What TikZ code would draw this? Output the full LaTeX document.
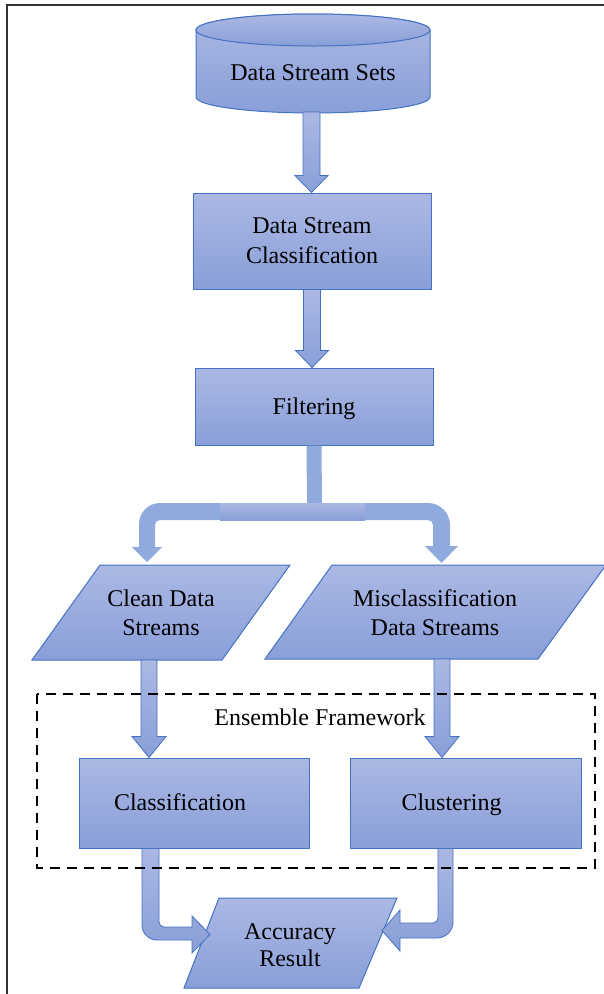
\documentclass[tikz,border=0pt]{standalone}
\usepackage{fontspec}
\setmainfont{Liberation Serif}
\newfontfamily\tnrfont{Liberation Serif}
\usetikzlibrary{calc}
\definecolor{boxtop}{RGB}{171,184,227}
\definecolor{boxbot}{RGB}{137,159,216}
\definecolor{edgeblue}{RGB}{68,114,196}
\definecolor{arrowfill}{RGB}{143,170,220}
\definecolor{framegray}{RGB}{50,50,50}
\tikzset{
  lbl/.style={font=\tnrfont\fontsize{24}{29}\selectfont, align=center, inner sep=0pt},
  boxshade/.style={top color=boxtop, bottom color=boxbot, draw=edgeblue, line width=1pt},
  procbox/.style={boxshade, rectangle, inner sep=0pt, font=\tnrfont\fontsize{24}{30}\selectfont, align=center},
  oneline/.style={text height=20pt, text depth=5pt},
  blockarrow/.style={top color=boxtop, bottom color=boxbot, draw=edgeblue, line width=0.8pt},
}
\newcommand{\varrow}[5]{%
  \path[blockarrow] let \p1=(#1), \p2=(#2) in
   (\x1-#3pt,\y1) -- (\x1+#3pt,\y1) -- (\x1+#3pt,\y2+#5pt) -- (\x1+#4pt,\y2+#5pt)
   -- (\x1,\y2) -- (\x1-#4pt,\y2+#5pt) -- (\x1-#3pt,\y2+#5pt) -- cycle;}
\begin{document}
\begin{tikzpicture}[x=1pt,y=-1pt]
\useasboundingbox (0,0) rectangle (604,994);
% outer frame
\draw[framegray, line width=2pt] (6.5,1010) -- (6.5,4.5) -- (620,4.5);

% cylinder
\path[boxshade] (196,30) -- (196,97) arc[start angle=180, end angle=360, x radius=117pt, y radius=16pt]
  -- (430,30) arc[start angle=0, end angle=180, x radius=117pt, y radius=16pt] -- cycle;
\path[boxshade] (313,30) ellipse[x radius=117pt, y radius=16pt];
\node[lbl, oneline] (dss) at (313,73) {Data Stream Sets};
\coordinate (dssbot) at (311.5,112);

% process boxes
\node[procbox, minimum width=238pt, minimum height=96pt] (dsc) at (312,241) {Data Stream\\Classification};
\node[procbox, oneline, minimum width=238pt, minimum height=77pt] (filt) at (314,406.5) {Filtering};
\node[procbox, minimum width=230pt, minimum height=90pt] (cls) at (194,803) {};
\node[lbl, oneline] (clstxt) at ($(cls.center)+(-14,0)$) {Classification};
\node[procbox, minimum width=231pt, minimum height=90pt] (clu) at (465.5,803) {};
\node[lbl, oneline] (clutxt) at ($(clu.center)+(-14,0)$) {Clustering};

% vertical arrows
\varrow{dssbot}{dsc.north}{8.5}{16.5}{17}
\varrow{dsc.south}{filt.north}{8.5}{16.5}{17}

% fork arrow
\coordinate (forktop) at (filt.south);
\fill[arrowfill] let \p1=(forktop) in
  (\x1-7.5pt,\y1) -- (307,503) -- (160,503)
  arc[start angle=90, end angle=180, radius=21pt] -- (139,547) -- (132,547) -- (147,562) -- (162,547)
  -- (155,547) -- (155,525) arc[start angle=180, end angle=90, radius=5pt]
  -- (428,520) arc[start angle=90, end angle=0, radius=5pt] -- (433,546) -- (425,546)
  -- (441.5,563) -- (458,546) -- (450,546) -- (450,525) arc[start angle=0, end angle=90, radius=22pt]
  -- (322,503) -- (\x1+7.5pt,\y1) -- cycle;
\path[top color=boxtop, bottom color=boxbot] (220,503) rectangle (365,520);

% parallelograms
\path[boxshade] (100,565) -- (290,565) -- (222,660) -- (32,660) -- cycle;
\node[lbl] (clean) at (161,613) {Clean Data\\Streams};
\path[boxshade] (332,565) -- (606,565) -- (538,659) -- (265,659) -- cycle;
\node[lbl] (mis) at (435,613) {Misclassification\\Data Streams};
\coordinate (cleanbot) at (149,660);
\coordinate (misbot) at (442,659);

\varrow{cleanbot}{cls.north}{8}{17}{21}
\varrow{misbot}{clu.north}{8}{17}{21}

% accuracy result
\path[boxshade] (219,898) -- (397,898) -- (359,988) -- (184,988) -- cycle;
\node[lbl, font=\tnrfont\fontsize{24}{27}\selectfont] (acc) at (290,945) {Accuracy\\Result};

% bottom bent arrows
\path[blockarrow] let \p1=(cls.south) in
  (142,\y1) -- (142,925) arc[start angle=180, end angle=270, radius=15pt]
  -- (192,940) -- (192,953) -- (210,934.5) -- (192,916) -- (192,927) -- (164,927)
  arc[start angle=270, end angle=180, radius=5pt] -- (159,\y1) -- cycle;
\path[blockarrow] let \p1=(clu.south) in
  (453,\y1) -- (453,922) arc[start angle=0, end angle=-90, radius=16pt]
  -- (400,938) -- (400,951) -- (382,930.5) -- (400,910) -- (400,923) -- (433,923)
  arc[start angle=-90, end angle=0, radius=5pt] -- (438,\y1) -- cycle;

% ensemble frame
\draw[line width=2.5pt, dash pattern=on 10pt off 7pt] (37,694) rectangle (595,868);
\node[lbl, oneline] (ens) at (320,718) {Ensemble Framework};
\end{tikzpicture}
\end{document}
